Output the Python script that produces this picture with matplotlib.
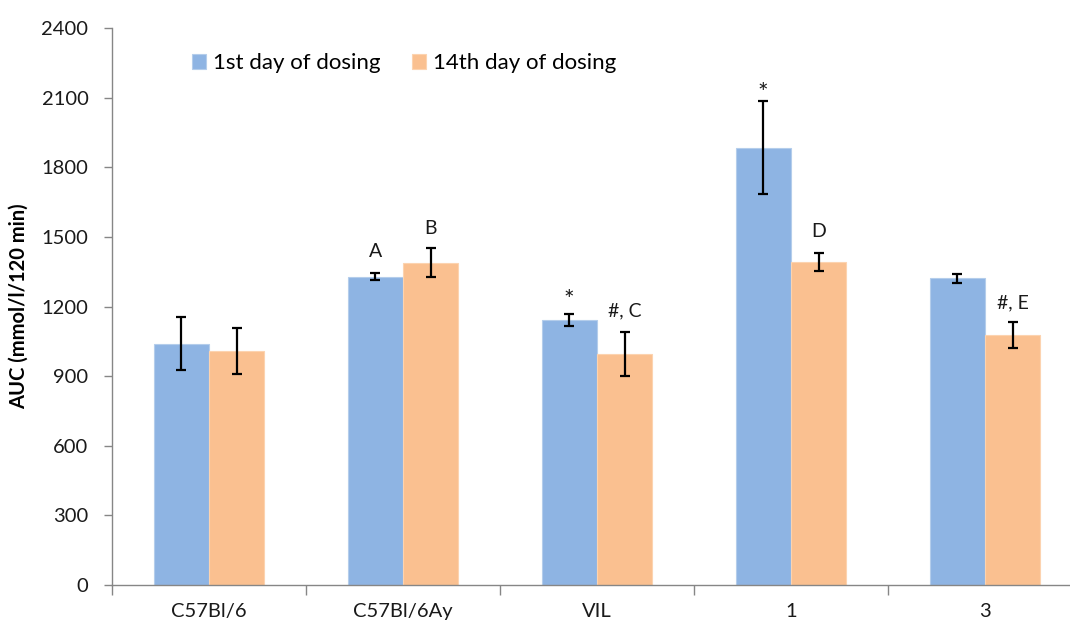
import numpy as np
import matplotlib.pyplot as plt

plt.rcParams['font.family'] = ['Lato', 'DejaVu Sans']

groups = ['C57Bl/6', 'C57Bl/6Ay', 'VIL', '1', '3']
day1 = [1040, 1329, 1140, 1885, 1321]
day1_err = [114, 14, 26, 200, 18]
day14 = [1008, 1388, 996, 1391, 1077]
day14_err = [98, 62, 96, 40, 57]

# significance marks: (group index, series 0=day1 / 1=day14, text, label height)
marks = [(1, 0, 'A', 1435), (1, 1, 'B', 1534),
         (2, 0, '*', 1225), (2, 1, '#, C', 1180),
         (3, 0, '*', 2117), (3, 1, 'D', 1522),
         (4, 1, '#, E', 1215)]

blue = '#8EB4E3'
orange = '#FAC090'

fig = plt.figure(figsize=(10.70, 6.22), dpi=100)
ax = fig.add_axes([112/1070, 37/622, 970/1070, 557/622])

x = np.arange(len(groups))
w = 0.286
ekw = dict(ecolor='black', elinewidth=1.6, capsize=3.6, capthick=1.6)
ax.bar(x - w/2, day1, w, yerr=day1_err, color=blue, edgecolor='#B4CDEB',
       linewidth=0.8, error_kw=ekw, label='1st day of dosing')
ax.bar(x + w/2, day14, w, yerr=day14_err, color=orange, edgecolor='#FCD3B0',
       linewidth=0.8, error_kw=ekw, label='14th day of dosing')

for gi, s, txt, yv in marks:
    xs = gi - w/2 if s == 0 else gi + w/2
    fs = 18 if txt == '*' else 14
    ax.text(xs, yv, txt, ha='center', va='center', fontsize=fs, color='#1a1a1a')

ax.set_xlim(-0.5, 4.5)
ax.set_ylim(0, 2400)
ax.set_yticks(np.arange(0, 2401, 300))
ax.set_xticks(x)
ax.set_xticklabels(groups)
ax.set_xticks(np.arange(-0.5, 4.6, 1), minor=True)
ax.tick_params(axis='x', which='major', length=0, pad=13, labelsize=14.5, labelcolor='#1a1a1a')
ax.tick_params(axis='x', which='minor', length=7, width=1, color='#868686', direction='out')
ax.tick_params(axis='y', length=6, width=1, color='#868686', labelsize=14.5, labelcolor='#1a1a1a', pad=11)

for sp in ['top', 'right']:
    ax.spines[sp].set_visible(False)
for sp in ['left', 'bottom']:
    ax.spines[sp].set_color('#868686')
    ax.spines[sp].set_linewidth(1)

ax.set_ylabel('AUC (mmol/l/120 min)', fontsize=14.5, fontweight='bold', labelpad=9)

ax.legend(loc='center left', bbox_to_anchor=(172/1070, 1 - 63/622),
          bbox_transform=fig.transFigure, ncol=2, frameon=False, fontsize=16,
          handlelength=0.65, handleheight=0.65, handletextpad=0.3, columnspacing=1.4)

fig.savefig('out.png', dpi=100)
